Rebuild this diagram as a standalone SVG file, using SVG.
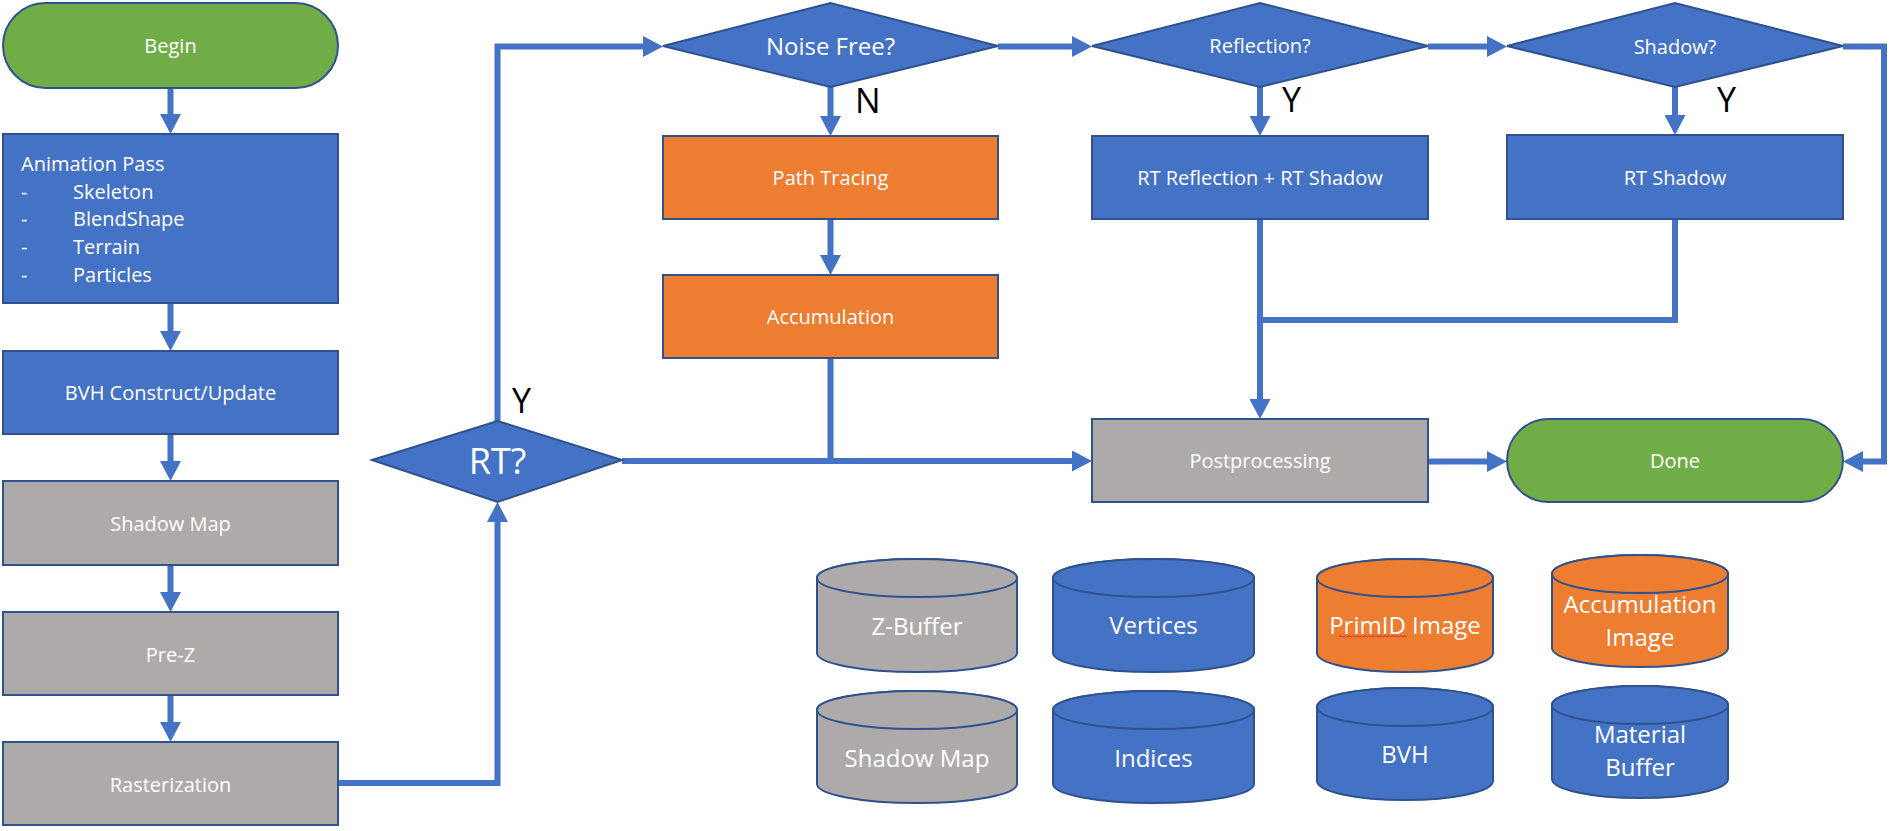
<svg xmlns="http://www.w3.org/2000/svg" width="1894" height="831" viewBox="0 0 1894 831">
<style>
.node{stroke:#2F528F;stroke-width:2}
.blue{fill:#4472C4}
.gray{fill:#AEAAAA}
.orange{fill:#ED7D31}
.green{fill:#70AD47}
.t{font-family:"Open Sans","Noto Sans",sans-serif;fill:#FFFFFF;font-size:20px;text-anchor:middle}
.tl{font-family:"Open Sans","Noto Sans",sans-serif;fill:#FFFFFF;font-size:20px}
.lbl{font-family:"Open Sans","Noto Sans",sans-serif;fill:#000000;font-size:34px}
.cyl{font-family:"Open Sans","Noto Sans",sans-serif;fill:#FFFFFF;font-size:24px;text-anchor:middle}
.c{fill:none;stroke:#4472C4;stroke-width:6;stroke-linejoin:miter}
.ca{fill:none;stroke:#4472C4;stroke-width:6;stroke-linejoin:miter;marker-end:url(#ah)}
</style>
<defs>
<marker id="ah" markerUnits="userSpaceOnUse" viewBox="0 0 20 21" markerWidth="20" markerHeight="21" refX="8" refY="10.5" orient="auto">
<path d="M0,0 L20,10.5 L0,21 Z" fill="#4472C4"/>
</marker>
</defs>
<rect width="1894" height="831" fill="#FFFFFF"/>

<g id="connectors">
<path class="ca" d="M170.5,88 V122"/>
<path class="ca" d="M170.5,303 V339"/>
<path class="ca" d="M170.5,434 V469"/>
<path class="ca" d="M170.5,565 V600"/>
<path class="ca" d="M170.5,695 V730"/>
<path class="ca" d="M338,783 H497.5 V514"/>
<path class="ca" d="M497.5,421 V46.5 H651"/>
<path class="ca" d="M830.5,87 V124"/>
<path class="ca" d="M830.5,219 V263"/>
<path class="ca" d="M622,461 H1080"/>
<path class="c" d="M830.5,358 V461"/>
<path class="ca" d="M998,46.5 H1080"/>
<path class="ca" d="M1260,87 V124"/>
<path class="ca" d="M1428,46.5 H1495"/>
<path class="ca" d="M1675,87 V123"/>
<path class="ca" d="M1843,46.5 H1884 V461.5 H1855"/>
<path class="ca" d="M1260,219 V407"/>
<path class="c" d="M1675,219 V320 H1260"/>
<path class="ca" d="M1428,461.5 H1495"/>
</g>

<g id="begin">
<rect class="node green" x="3" y="3" width="335" height="85" rx="42.5"/>
<text class="t" x="170.5" y="53">Begin</text>
</g>
<g id="animation">
<rect class="node blue" x="3" y="134" width="335" height="169"/>
<text class="tl" x="21" y="171">Animation Pass</text>
<text class="tl" x="21" y="199">-</text><text class="tl" x="73" y="199">Skeleton</text>
<text class="tl" x="21" y="226">-</text><text class="tl" x="73" y="226">BlendShape</text>
<text class="tl" x="21" y="254">-</text><text class="tl" x="73" y="254">Terrain</text>
<text class="tl" x="21" y="282">-</text><text class="tl" x="73" y="282">Particles</text>
</g>
<g id="bvh-construct">
<rect class="node blue" x="3" y="351" width="335" height="83"/>
<text class="t" x="170.5" y="400">BVH Construct/Update</text>
</g>
<g id="shadow-map-pass">
<rect class="node gray" x="3" y="481" width="335" height="84"/>
<text class="t" x="170.5" y="530.5">Shadow Map</text>
</g>
<g id="pre-z">
<rect class="node gray" x="3" y="612" width="335" height="83"/>
<text class="t" x="170.5" y="661.5">Pre-Z</text>
</g>
<g id="rasterization">
<rect class="node gray" x="3" y="742" width="335" height="83"/>
<text class="t" x="170.5" y="791.5">Rasterization</text>
</g>

<g id="rt-decision">
<polygon class="node blue" points="372,460 497.5,421 622,460 497.5,502"/>
<text class="t" style="font-size:36px" x="497.5" y="474">RT?</text>
</g>
<g id="noise-free">
<polygon class="node blue" points="663,46 830.5,3 998,46 830.5,87"/>
<text class="t" style="font-size:24px" x="830.5" y="55">Noise Free?</text>
</g>
<g id="path-tracing">
<rect class="node orange" x="663" y="136" width="335" height="83"/>
<text class="t" x="830.5" y="185">Path Tracing</text>
</g>
<g id="accumulation">
<rect class="node orange" x="663" y="275" width="335" height="83"/>
<text class="t" x="830.5" y="324">Accumulation</text>
</g>
<g id="reflection">
<polygon class="node blue" points="1092,46 1260,3 1428,46 1260,87"/>
<text class="t" x="1260" y="53">Reflection?</text>
</g>
<g id="rt-reflection">
<rect class="node blue" x="1092" y="136" width="336" height="83"/>
<text class="t" x="1260" y="185">RT Reflection + RT Shadow</text>
</g>
<g id="shadow-decision">
<polygon class="node blue" points="1507,46 1675,3 1843,46 1675,87"/>
<text class="t" x="1675" y="54">Shadow?</text>
</g>
<g id="rt-shadow">
<rect class="node blue" x="1507" y="135" width="336" height="84"/>
<text class="t" x="1675" y="185">RT Shadow</text>
</g>
<g id="postprocessing">
<rect class="node gray" x="1092" y="419" width="336" height="83"/>
<text class="t" x="1260" y="468">Postprocessing</text>
</g>
<g id="done">
<rect class="node green" x="1507" y="419" width="336" height="83" rx="41.5"/>
<text class="t" x="1675" y="468">Done</text>
</g>

<g id="labels">
<text class="lbl" x="512" y="413">Y</text>
<text class="lbl" x="855" y="113">N</text>
<text class="lbl" x="1282" y="112">Y</text>
<text class="lbl" x="1717" y="112">Y</text>
</g>

<g id="z-buffer">
<path class="node gray" d="M817,578 V653 A100,19 0 0 0 1017,653 V578 A100,19 0 0 0 817,578 Z"/>
<ellipse class="node gray" cx="917" cy="578" rx="100" ry="19"/>
<text class="cyl" x="917" y="635">Z-Buffer</text>
</g>
<g id="vertices">
<path class="node blue" d="M1053,578 V653 A100.5,19 0 0 0 1254,653 V578 A100.5,19 0 0 0 1053,578 Z"/>
<ellipse class="node blue" cx="1153.5" cy="578" rx="100.5" ry="19"/>
<text class="cyl" x="1153.5" y="634">Vertices</text>
</g>
<g id="shadow-map-buffer">
<path class="node gray" d="M817,710 V784 A100,19 0 0 0 1017,784 V710 A100,19 0 0 0 817,710 Z"/>
<ellipse class="node gray" cx="917" cy="710" rx="100" ry="19"/>
<text class="cyl" x="917" y="767">Shadow Map</text>
</g>
<g id="indices">
<path class="node blue" d="M1053,710 V784 A100.5,19 0 0 0 1254,784 V710 A100.5,19 0 0 0 1053,710 Z"/>
<ellipse class="node blue" cx="1153.5" cy="710" rx="100.5" ry="19"/>
<text class="cyl" x="1153.5" y="767">Indices</text>
</g>
<g id="primid-image">
<path class="node orange" d="M1317,578 V653 A88,19 0 0 0 1493,653 V578 A88,19 0 0 0 1317,578 Z"/>
<ellipse class="node orange" cx="1405" cy="578" rx="88" ry="19"/>
<text class="cyl" x="1405" y="634">PrimID Image</text>
<path d="M1339,637 l2,-1.5 l2,1.5 l2,-1.5 l2,1.5 l2,-1.5 l2,1.5 l2,-1.5 l2,1.5 l2,-1.5 l2,1.5 l2,-1.5 l2,1.5 l2,-1.5 l2,1.5 l2,-1.5 l2,1.5 l2,-1.5 l2,1.5 l2,-1.5 l2,1.5 l2,-1.5 l2,1.5 l2,-1.5 l2,1.5 l2,-1.5 l2,1.5 l2,-1.5 l2,1.5 l2,-1.5 l2,1.5 l2,-1.5 l2,1.5 l2,-1.5 l2,1.5" fill="none" stroke="#E03030" stroke-width="1"/>
</g>
<g id="accumulation-image">
<path class="node orange" d="M1552,574 V648 A88,19 0 0 0 1728,648 V574 A88,19 0 0 0 1552,574 Z"/>
<ellipse class="node orange" cx="1640" cy="574" rx="88" ry="19"/>
<text class="cyl" x="1640" y="613">Accumulation</text>
<text class="cyl" x="1640" y="646">Image</text>
</g>
<g id="bvh-buffer">
<path class="node blue" d="M1317,707 V781 A88,19 0 0 0 1493,781 V707 A88,19 0 0 0 1317,707 Z"/>
<ellipse class="node blue" cx="1405" cy="707" rx="88" ry="19"/>
<text class="cyl" x="1405" y="763">BVH</text>
</g>
<g id="material-buffer">
<path class="node blue" d="M1552,705 V779 A88,19 0 0 0 1728,779 V705 A88,19 0 0 0 1552,705 Z"/>
<ellipse class="node blue" cx="1640" cy="705" rx="88" ry="19"/>
<text class="cyl" x="1640" y="743">Material</text>
<text class="cyl" x="1640" y="776">Buffer</text>
</g>
</svg>
